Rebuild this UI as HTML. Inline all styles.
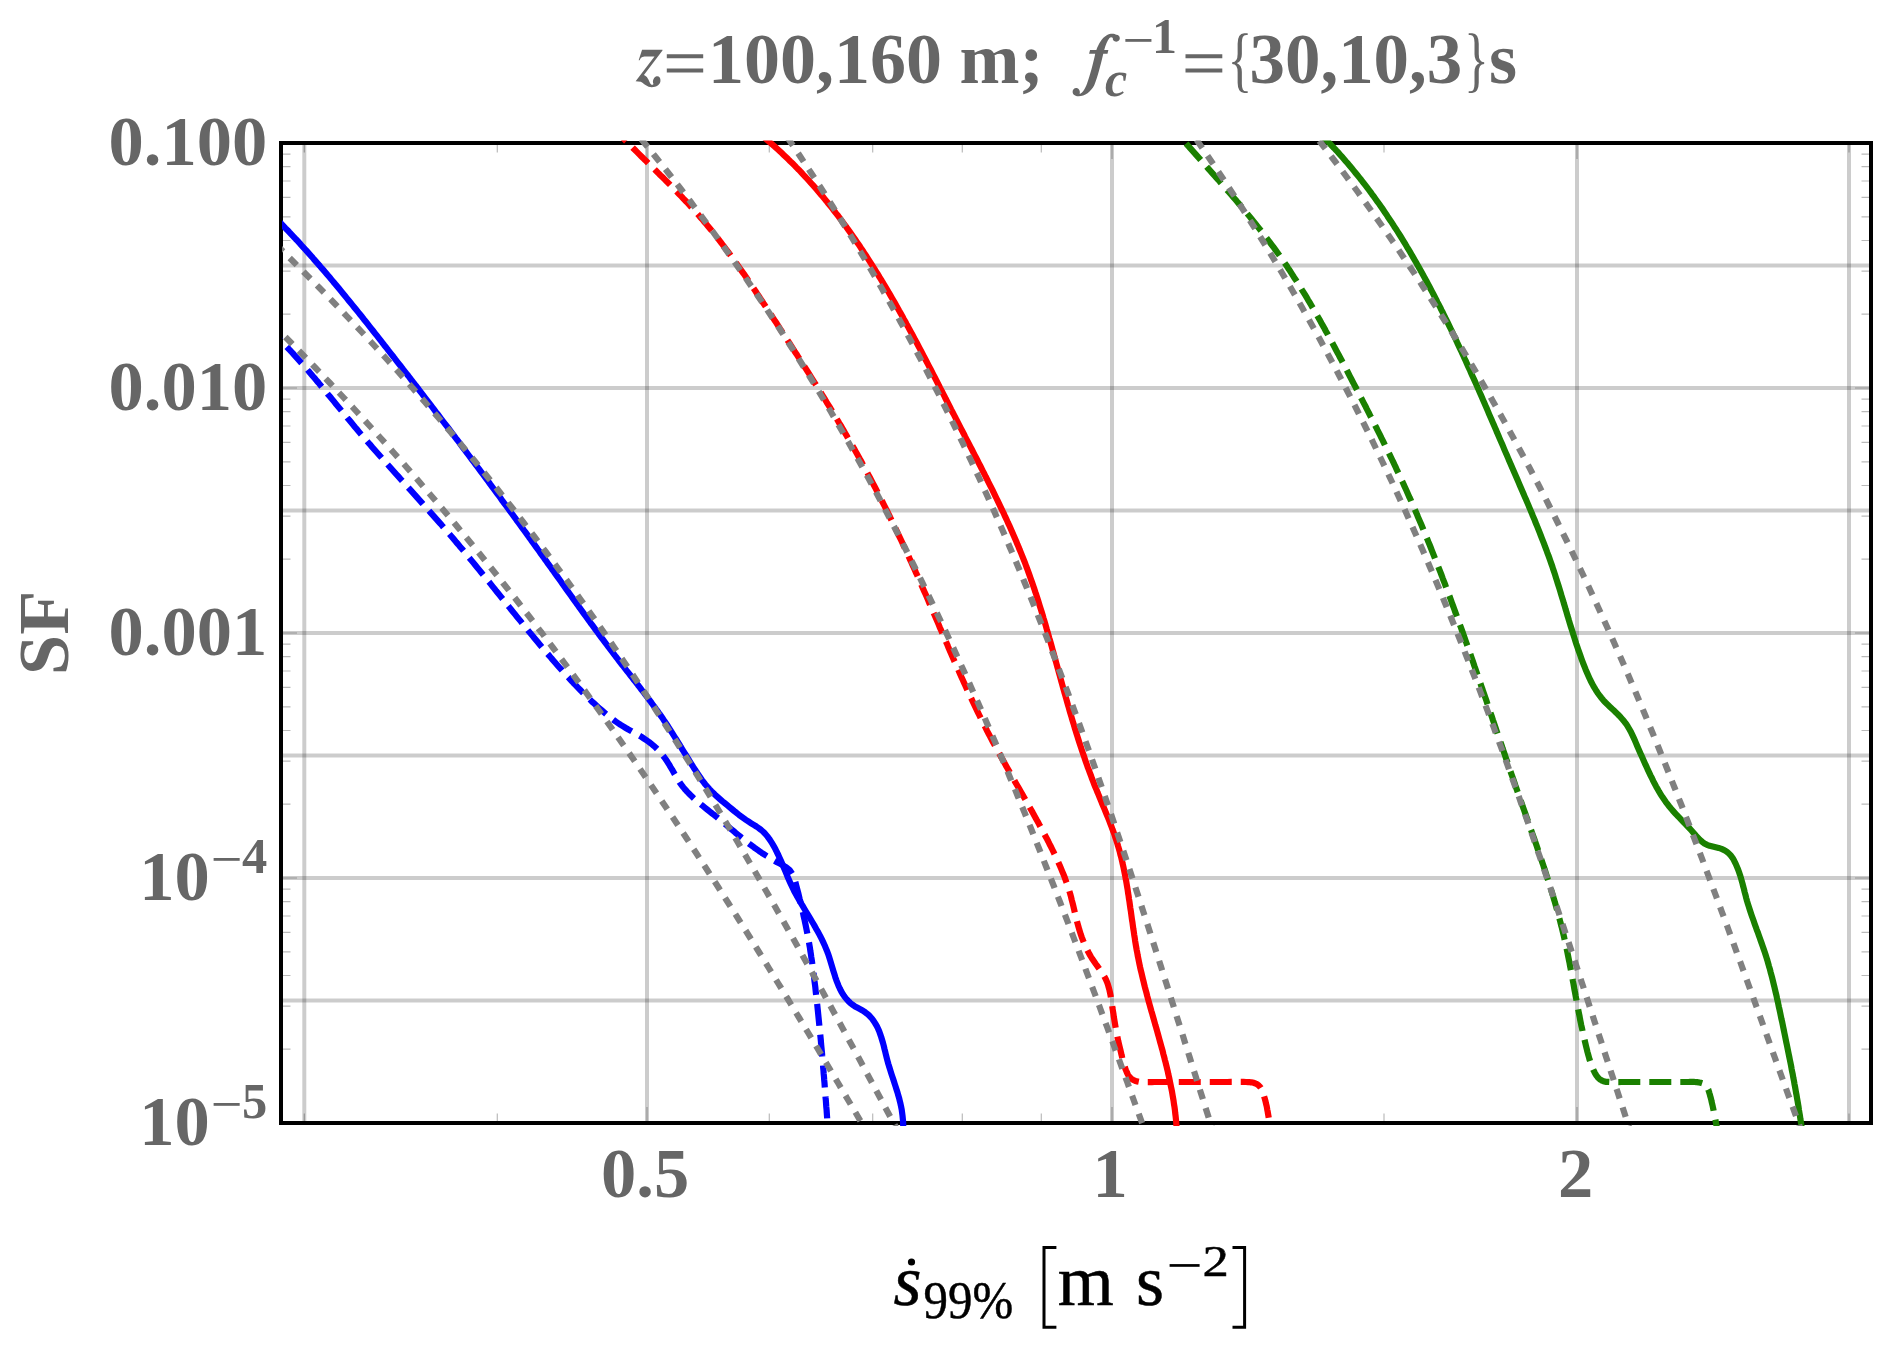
<!DOCTYPE html>
<html><head><meta charset="utf-8"><title>SF plot</title>
<style>html,body{margin:0;padding:0;background:#fff}body{width:1892px;height:1348px;position:relative;overflow:hidden;font-family:"Liberation Serif",serif}</style>
</head><body>
<svg width="1892" height="1348" viewBox="0 0 1892 1348" style="position:absolute;left:0;top:0;display:block">
<defs><clipPath id="cp"><rect x="282" y="140.5" width="1588" height="985.5"/></clipPath></defs>
<rect width="1892" height="1348" fill="#fff"/>
<g stroke="#000" stroke-opacity="0.2" stroke-width="4" fill="none"><path d="M304.3 143V1123"/><path d="M647 143V1123"/><path d="M1112 143V1123"/><path d="M1577 143V1123"/><path d="M1849 143V1123"/><path d="M281 265.5H1871"/><path d="M281 388H1871"/><path d="M281 510.5H1871"/><path d="M281 633H1871"/><path d="M281 755.5H1871"/><path d="M281 878H1871"/><path d="M281 1000.5H1871"/></g>
<path d="M304.3 145v7.5M304.3 1121v-7.5M497.3 145v7.5M497.3 1121v-7.5M769.3 145v7.5M769.3 1121v-7.5M872.7 145v7.5M872.7 1121v-7.5M962.3 145v7.5M962.3 1121v-7.5M1041.3 145v7.5M1041.3 1121v-7.5M1384 145v7.5M1384 1121v-7.5M1849 145v7.5M1849 1121v-7.5M647 145v14M647 1121v-14M1112 145v14M1112 1121v-14M1577 145v14M1577 1121v-14M283 388h14M1869 388h-14M283 314.2h7.5M1869 314.2h-7.5M283 271.1h7.5M1869 271.1h-7.5M283 240.5h7.5M1869 240.5h-7.5M283 216.8h7.5M1869 216.8h-7.5M283 197.4h7.5M1869 197.4h-7.5M283 181h7.5M1869 181h-7.5M283 166.7h7.5M1869 166.7h-7.5M283 154.2h7.5M1869 154.2h-7.5M283 633h14M1869 633h-14M283 559.2h7.5M1869 559.2h-7.5M283 516.1h7.5M1869 516.1h-7.5M283 485.5h7.5M1869 485.5h-7.5M283 461.8h7.5M1869 461.8h-7.5M283 442.4h7.5M1869 442.4h-7.5M283 426h7.5M1869 426h-7.5M283 411.7h7.5M1869 411.7h-7.5M283 399.2h7.5M1869 399.2h-7.5M283 878h14M1869 878h-14M283 804.2h7.5M1869 804.2h-7.5M283 761.1h7.5M1869 761.1h-7.5M283 730.5h7.5M1869 730.5h-7.5M283 706.8h7.5M1869 706.8h-7.5M283 687.4h7.5M1869 687.4h-7.5M283 671h7.5M1869 671h-7.5M283 656.7h7.5M1869 656.7h-7.5M283 644.2h7.5M1869 644.2h-7.5M283 1049.2h7.5M1869 1049.2h-7.5M283 1006.1h7.5M1869 1006.1h-7.5M283 975.5h7.5M1869 975.5h-7.5M283 951.8h7.5M1869 951.8h-7.5M283 932.4h7.5M1869 932.4h-7.5M283 916h7.5M1869 916h-7.5M283 901.7h7.5M1869 901.7h-7.5M283 889.2h7.5M1869 889.2h-7.5" stroke="#000" stroke-opacity="0.27" stroke-width="1.2" fill="none"/>
<rect x="281" y="143" width="1590" height="980" fill="none" stroke="#000" stroke-width="4"/>
<g clip-path="url(#cp)" fill="none" stroke-linejoin="round">
<path d="M274.9 217.3L277 219.4L279.1 221.6L281.2 223.7L283.3 225.9L285.4 228.1L287.5 230.2L289.5 232.4L291.6 234.6L293.7 236.8L295.7 239L297.8 241.2L299.8 243.4L301.8 245.7L303.8 247.9L305.9 250.1L307.9 252.4L309.9 254.6L311.9 256.8L313.8 259.1L315.8 261.4L317.8 263.6L319.8 265.9L321.7 268.2L323.7 270.4L325.7 272.7L327.6 275L329.6 277.3L331.5 279.6L333.4 281.9L335.4 284.2L337.3 286.5L339.2 288.8L341.1 291.2L343 293.5L344.9 295.8L346.8 298.1L348.7 300.5L350.6 302.8L352.5 305.1L354.4 307.5L356.3 309.8L358.2 312.1L360.1 314.5L362 316.8L363.8 319.2L365.7 321.5L367.6 323.9L369.5 326.3L371.3 328.6L373.2 331L375 333.3L376.9 335.7L378.8 338.1L380.6 340.4L382.5 342.8L384.3 345.2L386.2 347.5L388 349.9L389.9 352.3L391.7 354.6L393.6 357L395.4 359.4L397.3 361.8L399.1 364.1L401 366.5L402.8 368.9L404.7 371.3L406.5 373.6L408.4 376L410.2 378.4L412 380.8L413.9 383.1L415.7 385.5L417.6 387.9L419.4 390.3L421.2 392.7L423.1 395.1L424.9 397.5L426.7 399.8L428.5 402.2L430.4 404.6L432.2 407L434 409.4L435.8 411.8L437.7 414.2L439.5 416.6L441.3 419L443.1 421.4L445 423.8L446.8 426.2L448.6 428.5L450.4 430.9L452.2 433.3L454 435.7L455.8 438.1L457.7 440.5L459.5 442.9L461.3 445.4L463.1 447.8L464.9 450.2L466.7 452.6L468.5 455L470.3 457.4L472.1 459.8L473.9 462.2L475.7 464.6L477.5 467L479.3 469.4L481.1 471.8L482.9 474.3L484.7 476.7L486.5 479.1L488.3 481.5L490 483.9L491.8 486.3L493.6 488.8L495.4 491.2L497.2 493.6L499 496L500.8 498.4L502.5 500.9L504.3 503.3L506.1 505.7L507.9 508.1L509.7 510.6L511.4 513L513.2 515.4L515 517.8L516.7 520.3L518.5 522.7L520.3 525.1L522.1 527.6L523.8 530L525.6 532.4L527.4 534.9L529.1 537.3L530.9 539.7L532.6 542.2L534.4 544.6L536.2 547.1L537.9 549.5L539.7 551.9L541.4 554.4L543.2 556.8L544.9 559.3L546.7 561.7L548.4 564.2L550.2 566.6L551.9 569.1L553.7 571.5L555.4 573.9L557.2 576.4L558.9 578.8L560.7 581.3L562.4 583.7L564.2 586.2L565.9 588.6L567.7 591.1L569.4 593.5L571.2 596L572.9 598.4L574.7 600.9L576.4 603.3L578.2 605.7L579.9 608.2L581.7 610.6L583.5 613.1L585.2 615.5L587 617.9L588.8 620.4L590.5 622.8L592.3 625.2L594.1 627.6L595.9 630.1L597.7 632.5L599.4 634.9L601.2 637.3L603 639.7L604.8 642.1L606.6 644.5L608.4 646.9L610.3 649.3L612.1 651.7L613.9 654.1L615.7 656.5L617.6 658.9L619.4 661.3L621.2 663.7L623.1 666L624.9 668.4L626.8 670.8L628.7 673.2L630.5 675.5L632.4 677.9L634.2 680.3L636.1 682.6L637.9 685L639.8 687.4L641.6 689.8L643.5 692.2L645.3 694.5L647.1 696.9L648.9 699.3L650.7 701.7L652.5 704.2L654.3 706.6L656 709L657.8 711.4L659.5 713.9L661.3 716.4L663 718.8L664.6 721.3L666.3 723.8L668 726.3L669.6 728.8L671.2 731.4L672.8 733.9L674.4 736.5L676 739L677.6 741.6L679.2 744.1L680.7 746.7L682.3 749.3L683.9 751.8L685.5 754.4L687 757L688.6 759.5L690.2 762.1L691.8 764.7L693.4 767.2L695.1 769.7L696.7 772.3L698.4 774.8L700.1 777.3L701.8 779.8L703.6 782.2L705.4 784.5L707.4 786.8L709.4 789.1L711.4 791.2L713.6 793.3L715.7 795.4L718 797.4L720.2 799.4L722.5 801.4L724.9 803.3L727.2 805.2L729.5 807.1L731.8 809L734.2 811L736.5 812.8L738.8 814.7L741.2 816.5L743.7 818.3L746.1 820L748.7 821.7L751.2 823.3L753.8 824.9L756.4 826.5L758.9 828.2L761.2 830L763.5 832L765.5 834.1L767.4 836.4L769.2 838.8L770.9 841.4L772.5 843.9L774 846.6L775.5 849.3L776.8 852L778.2 854.7L779.4 857.4L780.7 860.2L781.9 863L783.1 865.8L784.2 868.6L785.4 871.4L786.6 874.2L787.7 877L788.9 879.8L790.1 882.5L791.4 885.3L792.7 888L794 890.7L795.4 893.3L796.8 895.9L798.3 898.5L799.8 901.1L801.3 903.7L802.8 906.2L804.3 908.8L805.8 911.3L807.4 913.9L808.9 916.4L810.4 918.9L812 921.5L813.5 924L815 926.6L816.4 929.2L817.9 931.8L819.3 934.4L820.7 937L822 939.7L823.3 942.4L824.6 945.2L825.7 947.9L826.9 950.7L828 953.6L829 956.5L829.9 959.4L830.8 962.4L831.7 965.3L832.6 968.3L833.5 971.3L834.4 974.2L835.3 977.2L836.3 980.1L837.4 982.9L838.5 985.7L839.8 988.5L841.1 991.1L842.6 993.7L844.2 996.1L846 998.5L848 1000.7L850.1 1002.8L852.4 1004.7L855 1006.4L857.6 1007.8L860.3 1009.2L863 1010.7L865.4 1012.4L867.8 1014.2L869.9 1016.3L871.9 1018.5L873.6 1020.8L875.2 1023.3L876.7 1025.8L878 1028.5L879.2 1031.3L880.2 1034.1L881.2 1037L882.1 1040L883 1043L883.8 1046L884.5 1049L885.3 1052.1L886 1055.1L886.8 1058.2L887.6 1061.2L888.4 1064.1L889.3 1067L890.2 1069.9L891.1 1072.8L892 1075.6L893 1078.5L893.9 1081.3L894.8 1084.1L895.7 1086.9L896.6 1089.7L897.5 1092.5L898.3 1095.3L899.1 1098.1L899.8 1101L900.5 1103.8L901.1 1106.7L901.7 1109.6L902.1 1112.6L902.5 1115.6L902.8 1118.6L903.1 1121.7L903.2 1124.8L903.2 1128L903 1131.3" stroke="#0000ff" stroke-width="6.2"/>
<path d="M274 334L276.1 336.1L278.3 338.2L280.4 340.4L282.5 342.5L284.6 344.7L286.7 346.8L288.8 349L290.8 351.2L292.9 353.4L294.9 355.7L296.9 357.9L298.9 360.1L300.9 362.4L302.9 364.6L304.9 366.9L306.9 369.1L308.8 371.4L310.8 373.7L312.7 376L314.7 378.3L316.6 380.6L318.6 382.9L320.5 385.2L322.4 387.5L324.3 389.8L326.2 392.1L328.1 394.5L330.1 396.8L332 399.1L333.9 401.4L335.8 403.8L337.7 406.1L339.6 408.4L341.5 410.7L343.4 413.1L345.3 415.4L347.2 417.7L349.2 420L351.1 422.3L353 424.7L354.9 427L356.9 429.3L358.8 431.6L360.7 433.9L362.7 436.1L364.7 438.4L366.6 440.7L368.6 443L370.6 445.2L372.5 447.5L374.5 449.8L376.5 452L378.5 454.3L380.5 456.5L382.5 458.8L384.5 461L386.5 463.3L388.5 465.5L390.5 467.8L392.5 470L394.5 472.3L396.5 474.5L398.5 476.7L400.5 479L402.5 481.2L404.5 483.4L406.5 485.7L408.5 487.9L410.6 490.2L412.6 492.4L414.6 494.6L416.6 496.9L418.6 499.1L420.6 501.3L422.6 503.6L424.6 505.8L426.6 508.1L428.6 510.3L430.6 512.6L432.6 514.8L434.6 517.1L436.6 519.3L438.6 521.6L440.6 523.8L442.5 526.1L444.5 528.4L446.5 530.7L448.4 532.9L450.4 535.2L452.4 537.5L454.3 539.8L456.2 542.1L458.2 544.4L460.1 546.7L462.1 549L464 551.3L465.9 553.6L467.8 555.9L469.7 558.3L471.6 560.6L473.5 562.9L475.4 565.2L477.3 567.6L479.2 569.9L481.1 572.2L483 574.6L484.9 576.9L486.8 579.3L488.7 581.6L490.6 583.9L492.5 586.3L494.4 588.6L496.2 591L498.1 593.3L500 595.7L501.9 598L503.8 600.4L505.7 602.7L507.5 605.1L509.4 607.4L511.3 609.7L513.2 612.1L515.1 614.4L517 616.8L518.9 619.1L520.8 621.4L522.7 623.8L524.6 626.1L526.5 628.4L528.4 630.8L530.3 633.1L532.2 635.4L534.1 637.7L536 640L537.9 642.3L539.9 644.7L541.8 647L543.7 649.3L545.7 651.5L547.6 653.8L549.6 656.1L551.5 658.4L553.5 660.7L555.5 663L557.4 665.2L559.4 667.5L561.4 669.7L563.4 672L565.4 674.2L567.4 676.4L569.5 678.6L571.5 680.8L573.5 683L575.6 685.2L577.7 687.4L579.8 689.5L581.9 691.7L584 693.8L586.1 695.9L588.3 698L590.5 700.1L592.6 702.2L594.9 704.2L597.1 706.2L599.3 708.2L601.6 710.2L603.9 712.2L606.2 714.1L608.5 716L610.9 717.9L613.3 719.7L615.7 721.5L618.2 723.2L620.7 724.9L623.2 726.4L625.8 728L628.4 729.5L631.1 730.9L633.7 732.4L636.3 733.9L638.9 735.4L641.5 736.9L644 738.6L646.5 740.3L649 742L651.4 743.9L653.7 745.8L655.9 747.8L658 749.9L660.1 752.1L662 754.4L663.9 756.8L665.7 759.3L667.4 761.8L669 764.3L670.5 767L672.1 769.6L673.6 772.3L675.1 774.9L676.6 777.6L678.2 780.1L679.8 782.7L681.6 785.1L683.4 787.4L685.3 789.7L687.3 791.9L689.4 794L691.5 796.1L693.7 798.2L695.9 800.2L698.1 802.1L700.4 804L702.8 805.9L705.1 807.8L707.5 809.7L709.8 811.6L712.2 813.5L714.6 815.3L716.9 817.2L719.2 819.1L721.6 821.1L723.9 823L726.2 824.9L728.5 826.9L730.8 828.8L733.1 830.7L735.4 832.7L737.8 834.6L740.1 836.5L742.4 838.4L744.8 840.3L747.1 842.1L749.5 844L751.9 845.8L754.3 847.6L756.7 849.3L759.2 851.1L761.7 852.8L764.2 854.4L766.7 856L769.3 857.6L771.9 859.2L774.5 860.7L777.1 862.2L779.8 863.6L782.5 865.1L785.1 866.6L787.5 868.3L789.7 870.2L791.4 872.5L792.9 875L794 877.8L795 880.7L795.8 883.7L796.6 886.7L797.4 889.7L798.2 892.7L798.9 895.7L799.6 898.7L800.4 901.6L801.1 904.6L801.7 907.5L802.4 910.4L803.1 913.3L803.7 916.3L804.4 919.2L805 922.1L805.6 924.9L806.2 927.8L806.8 930.8L807.4 933.7L807.9 936.6L808.4 939.5L809 942.4L809.5 945.4L810 948.3L810.4 951.3L810.9 954.3L811.3 957.2L811.8 960.2L812.2 963.2L812.6 966.2L813 969.2L813.4 972.2L813.8 975.1L814.2 978.1L814.5 981.1L814.9 984.1L815.3 987.1L815.6 990.2L815.9 993.2L816.3 996.2L816.6 999.2L816.9 1002.2L817.3 1005.2L817.6 1008.2L817.9 1011.1L818.2 1014.1L818.5 1017.1L818.8 1020.1L819.1 1023.1L819.4 1026.1L819.7 1029.1L820 1032.1L820.3 1035.1L820.6 1038.1L820.9 1041.1L821.1 1044.1L821.4 1047.1L821.7 1050.1L822 1053L822.2 1056L822.5 1059L822.7 1062L823 1065L823.2 1068L823.5 1071L823.7 1074L824 1077L824.2 1080L824.5 1083L824.7 1086L824.9 1089L825.2 1092L825.4 1095L825.6 1098L825.9 1101L826.1 1104L826.3 1107L826.6 1110L826.8 1113L827 1116L827.2 1119L827.4 1122L827.7 1125L827.9 1128L828.1 1131" stroke="#0000ff" stroke-width="6.2" stroke-dasharray="22 9" stroke-dashoffset="12.86"/>
<path d="M760.9 134.7L763.3 136.6L765.6 138.6L767.9 140.6L770.2 142.6L772.5 144.6L774.8 146.6L777.1 148.7L779.3 150.7L781.5 152.8L783.7 154.9L785.9 157L788.1 159.1L790.2 161.2L792.4 163.3L794.5 165.4L796.6 167.6L798.7 169.7L800.8 171.9L802.8 174.1L804.9 176.3L806.9 178.5L808.9 180.7L810.9 183L812.9 185.2L814.9 187.4L816.9 189.7L818.8 192L820.7 194.3L822.7 196.5L824.6 198.9L826.5 201.2L828.3 203.5L830.2 205.8L832.1 208.2L833.9 210.5L835.7 212.9L837.6 215.2L839.4 217.6L841.2 220L842.9 222.4L844.7 224.8L846.5 227.2L848.2 229.6L850 232.1L851.7 234.5L853.4 237L855.1 239.4L856.8 241.9L858.5 244.3L860.2 246.8L861.8 249.3L863.5 251.8L865.1 254.3L866.8 256.8L868.4 259.3L870 261.8L871.6 264.4L873.2 266.9L874.8 269.4L876.4 272L878 274.5L879.5 277.1L881.1 279.6L882.6 282.2L884.2 284.8L885.7 287.4L887.2 289.9L888.8 292.5L890.3 295.1L891.8 297.7L893.3 300.3L894.8 302.9L896.3 305.5L897.8 308.2L899.2 310.8L900.7 313.4L902.2 316L903.6 318.7L905.1 321.3L906.5 324L908 326.6L909.4 329.2L910.9 331.9L912.3 334.5L913.7 337.2L915.1 339.9L916.6 342.5L918 345.2L919.4 347.9L920.8 350.5L922.2 353.2L923.6 355.9L925 358.5L926.4 361.2L927.8 363.9L929.2 366.6L930.6 369.3L932 372L933.3 374.6L934.7 377.3L936.1 380L937.5 382.7L938.9 385.4L940.2 388.1L941.6 390.8L943 393.4L944.4 396.1L945.7 398.8L947.1 401.5L948.5 404.2L949.9 406.9L951.2 409.6L952.6 412.3L954 414.9L955.4 417.6L956.7 420.3L958.1 423L959.5 425.7L960.9 428.4L962.3 431L963.7 433.7L965 436.4L966.4 439.1L967.8 441.7L969.2 444.4L970.6 447.1L972 449.8L973.3 452.4L974.7 455.1L976.1 457.8L977.5 460.5L978.8 463.1L980.2 465.8L981.6 468.5L982.9 471.2L984.3 473.8L985.6 476.5L987 479.2L988.3 481.9L989.7 484.6L991 487.2L992.4 489.9L993.7 492.6L995 495.3L996.3 498L997.6 500.7L998.9 503.4L1000.2 506.1L1001.5 508.8L1002.8 511.5L1004.1 514.2L1005.3 516.9L1006.6 519.6L1007.8 522.4L1009.1 525.1L1010.3 527.8L1011.5 530.5L1012.7 533.3L1013.9 536L1015.1 538.8L1016.3 541.5L1017.4 544.3L1018.6 547L1019.7 549.8L1020.9 552.6L1022 555.3L1023.1 558.1L1024.2 560.9L1025.3 563.7L1026.3 566.5L1027.4 569.3L1028.4 572.1L1029.4 574.9L1030.4 577.8L1031.4 580.6L1032.4 583.4L1033.4 586.3L1034.4 589.1L1035.3 592L1036.3 594.8L1037.2 597.7L1038.1 600.5L1039 603.4L1039.9 606.3L1040.8 609.1L1041.7 612L1042.6 614.9L1043.4 617.8L1044.3 620.7L1045.2 623.6L1046 626.5L1046.8 629.4L1047.7 632.3L1048.5 635.2L1049.3 638.1L1050.2 641L1051 643.9L1051.8 646.8L1052.6 649.7L1053.4 652.6L1054.2 655.5L1055 658.4L1055.8 661.3L1056.6 664.2L1057.4 667.1L1058.2 670L1059 672.9L1059.8 675.8L1060.6 678.7L1061.4 681.6L1062.2 684.5L1063 687.4L1063.8 690.3L1064.6 693.2L1065.5 696.1L1066.3 699L1067.1 701.9L1067.9 704.8L1068.8 707.7L1069.6 710.6L1070.4 713.4L1071.3 716.3L1072.1 719.2L1073 722.1L1073.9 724.9L1074.7 727.8L1075.6 730.7L1076.5 733.5L1077.4 736.4L1078.3 739.2L1079.2 742.1L1080.1 744.9L1081.1 747.8L1082 750.6L1083 753.5L1084 756.3L1084.9 759.1L1085.9 762L1086.9 764.8L1087.9 767.6L1089 770.4L1090 773.2L1091.1 776L1092.1 778.9L1093.2 781.7L1094.3 784.5L1095.4 787.3L1096.6 790L1097.7 792.8L1098.9 795.6L1100 798.4L1101.2 801.2L1102.3 804L1103.5 806.8L1104.7 809.6L1105.8 812.4L1106.9 815.1L1108.1 817.9L1109.2 820.7L1110.3 823.5L1111.4 826.4L1112.4 829.2L1113.5 832L1114.5 834.8L1115.4 837.7L1116.4 840.5L1117.3 843.4L1118.1 846.2L1119 849.1L1119.8 852L1120.5 854.9L1121.3 857.8L1122 860.7L1122.6 863.6L1123.3 866.5L1123.9 869.4L1124.5 872.4L1125.1 875.3L1125.6 878.3L1126.2 881.2L1126.7 884.2L1127.2 887.1L1127.7 890.1L1128.1 893.1L1128.6 896L1129 899L1129.5 902L1129.9 905L1130.3 907.9L1130.8 910.9L1131.2 913.9L1131.6 916.9L1132 919.9L1132.5 922.8L1132.9 925.8L1133.3 928.8L1133.8 931.8L1134.2 934.7L1134.7 937.7L1135.1 940.7L1135.6 943.7L1136.1 946.6L1136.6 949.6L1137.2 952.5L1137.7 955.5L1138.3 958.4L1138.9 961.4L1139.5 964.3L1140.1 967.2L1140.8 970.2L1141.5 973.1L1142.2 976L1142.9 978.9L1143.6 981.8L1144.3 984.7L1145 987.6L1145.8 990.5L1146.6 993.4L1147.3 996.3L1148.1 999.2L1148.9 1002.1L1149.7 1005L1150.5 1007.9L1151.3 1010.8L1152.2 1013.7L1153 1016.6L1153.8 1019.4L1154.6 1022.3L1155.4 1025.2L1156.3 1028.1L1157.1 1031L1157.9 1033.9L1158.7 1036.8L1159.5 1039.7L1160.3 1042.6L1161.1 1045.5L1161.9 1048.4L1162.7 1051.2L1163.4 1054.2L1164.2 1057.1L1164.9 1060L1165.7 1062.9L1166.4 1065.8L1167.1 1068.7L1167.8 1071.6L1168.4 1074.6L1169.1 1077.5L1169.7 1080.4L1170.3 1083.4L1170.9 1086.3L1171.5 1089.2L1172.1 1092.2L1172.6 1095.2L1173.1 1098.1L1173.6 1101.1L1174 1104.1L1174.5 1107L1174.9 1110L1175.2 1113L1175.6 1116L1175.9 1119L1176.2 1122L1176.4 1125L1176.6 1128L1176.8 1131.1" stroke="#ff0000" stroke-width="6.2"/>
<path d="M620.2 134.9L622.2 137.1L624.3 139.2L626.4 141.3L628.5 143.5L630.6 145.6L632.7 147.7L634.8 149.8L636.9 151.9L639.1 154.1L641.2 156.2L643.3 158.3L645.5 160.4L647.6 162.5L649.7 164.6L651.9 166.7L654 168.8L656.2 171L658.3 173.1L660.4 175.2L662.6 177.3L664.7 179.4L666.8 181.6L669 183.7L671.1 185.9L673.2 188L675.3 190.1L677.4 192.3L679.5 194.5L681.6 196.6L683.6 198.8L685.7 201L687.8 203.2L689.8 205.4L691.8 207.6L693.9 209.8L695.9 212.1L697.9 214.3L699.8 216.6L701.8 218.8L703.7 221.1L705.7 223.4L707.6 225.7L709.5 228L711.4 230.3L713.3 232.7L715.1 235L717 237.4L718.8 239.7L720.7 242.1L722.5 244.5L724.3 246.9L726.1 249.3L727.9 251.7L729.7 254.1L731.4 256.5L733.2 258.9L734.9 261.3L736.7 263.8L738.4 266.2L740.1 268.7L741.8 271.1L743.6 273.6L745.3 276.1L747 278.5L748.6 281L750.3 283.5L752 286L753.7 288.5L755.4 291L757 293.5L758.7 296L760.3 298.5L762 301L763.6 303.5L765.3 306L766.9 308.5L768.6 311.1L770.2 313.6L771.9 316.1L773.5 318.6L775.1 321.1L776.8 323.6L778.4 326.2L780 328.7L781.7 331.2L783.3 333.7L785 336.3L786.6 338.8L788.2 341.3L789.9 343.8L791.5 346.4L793.1 348.9L794.7 351.4L796.4 353.9L798 356.5L799.6 359L801.2 361.5L802.8 364.1L804.5 366.6L806.1 369.1L807.7 371.7L809.3 374.2L810.9 376.8L812.5 379.3L814.1 381.8L815.7 384.4L817.3 386.9L818.9 389.5L820.4 392L822 394.6L823.6 397.2L825.2 399.7L826.7 402.3L828.3 404.8L829.9 407.4L831.4 410L833 412.5L834.5 415.1L836.1 417.7L837.6 420.3L839.1 422.9L840.7 425.4L842.2 428L843.7 430.6L845.2 433.2L846.7 435.8L848.2 438.4L849.7 441L851.2 443.6L852.7 446.2L854.2 448.8L855.6 451.4L857.1 454.1L858.6 456.7L860 459.3L861.5 461.9L862.9 464.6L864.3 467.2L865.8 469.8L867.2 472.5L868.6 475.1L870 477.8L871.4 480.4L872.8 483.1L874.2 485.7L875.6 488.4L877 491.1L878.3 493.7L879.7 496.4L881 499.1L882.4 501.8L883.7 504.4L885.1 507.1L886.4 509.8L887.8 512.5L889.1 515.2L890.4 517.9L891.7 520.6L893 523.3L894.3 526L895.6 528.7L896.9 531.4L898.2 534.1L899.5 536.8L900.8 539.5L902.1 542.3L903.3 545L904.6 547.7L905.9 550.4L907.1 553.1L908.4 555.9L909.6 558.6L910.9 561.3L912.1 564.1L913.4 566.8L914.6 569.5L915.8 572.3L917.1 575L918.3 577.8L919.5 580.5L920.7 583.3L921.9 586L923.1 588.8L924.3 591.5L925.6 594.3L926.8 597L928 599.8L929.1 602.5L930.3 605.3L931.5 608L932.7 610.8L933.9 613.6L935.1 616.3L936.3 619.1L937.5 621.8L938.7 624.6L939.8 627.4L941 630.1L942.2 632.9L943.4 635.6L944.6 638.4L945.8 641.2L947 643.9L948.1 646.7L949.3 649.4L950.5 652.2L951.7 654.9L952.9 657.7L954.1 660.5L955.3 663.2L956.6 666L957.8 668.7L959 671.4L960.2 674.2L961.4 676.9L962.7 679.7L963.9 682.4L965.1 685.1L966.4 687.9L967.6 690.6L968.9 693.3L970.1 696L971.4 698.7L972.7 701.5L974 704.2L975.3 706.9L976.6 709.6L977.9 712.3L979.2 715L980.5 717.7L981.8 720.4L983.2 723L984.5 725.7L985.9 728.4L987.2 731.1L988.6 733.7L990 736.4L991.4 739L992.8 741.7L994.2 744.3L995.7 747L997.1 749.6L998.5 752.3L1000 754.9L1001.4 757.5L1002.9 760.1L1004.4 762.8L1005.8 765.4L1007.3 768L1008.8 770.6L1010.3 773.2L1011.8 775.8L1013.3 778.4L1014.7 781.1L1016.2 783.7L1017.7 786.3L1019.2 788.9L1020.7 791.5L1022.2 794.1L1023.7 796.7L1025.2 799.3L1026.7 801.9L1028.1 804.6L1029.6 807.2L1031.1 809.8L1032.6 812.4L1034 815L1035.5 817.7L1036.9 820.3L1038.4 822.9L1039.8 825.6L1041.3 828.2L1042.7 830.9L1044.1 833.5L1045.5 836.2L1046.9 838.8L1048.3 841.5L1049.6 844.2L1051 846.8L1052.3 849.5L1053.6 852.2L1054.9 854.9L1056.2 857.6L1057.5 860.3L1058.7 863.1L1059.9 865.8L1061.1 868.6L1062.2 871.3L1063.4 874.1L1064.5 876.9L1065.5 879.7L1066.5 882.5L1067.5 885.3L1068.4 888.2L1069.3 891L1070.2 893.9L1071 896.8L1071.7 899.7L1072.5 902.7L1073.2 905.6L1073.9 908.5L1074.6 911.5L1075.3 914.4L1076 917.3L1076.7 920.3L1077.5 923.2L1078.3 926.1L1079.1 929L1080 931.9L1080.9 934.8L1081.9 937.6L1083 940.4L1084.1 943.2L1085.3 945.9L1086.6 948.6L1087.9 951.3L1089.3 953.9L1090.8 956.5L1092.4 959.1L1094.1 961.6L1095.8 964L1097.6 966.4L1099.3 968.9L1101.1 971.3L1102.7 973.8L1104.3 976.4L1105.7 979L1106.9 981.7L1107.9 984.5L1108.7 987.3L1109.5 990.3L1110.1 993.2L1110.7 996.2L1111.2 999.3L1111.6 1002.3L1112.1 1005.3L1112.5 1008.3L1113 1011.3L1113.5 1014.3L1113.9 1017.3L1114.4 1020.2L1114.9 1023.2L1115.4 1026.2L1115.9 1029.1L1116.5 1032L1117 1035L1117.6 1037.9L1118.2 1040.8L1118.9 1043.7L1119.6 1046.7L1120.3 1049.6L1121 1052.5L1121.5 1054.8L1122 1056.8L1122.4 1058.6L1122.8 1060.2L1123.2 1061.7L1123.6 1063.2L1124 1064.6L1124.5 1066L1125 1067.4L1125.4 1068.8L1125.9 1070.1L1126.4 1071.3L1126.9 1072.5L1127.4 1073.5L1127.9 1074.6L1128.5 1075.5L1129.1 1076.3L1129.7 1077.1L1130.3 1077.8L1131 1078.4L1131.7 1078.9L1132.4 1079.4L1133.2 1079.9L1134 1080.3L1134.8 1080.7L1135.6 1081L1136.4 1081.2L1137.2 1081.5L1138.2 1081.6L1139.2 1081.8L1140.5 1081.9L1142 1082L1143.7 1082.1L1145.5 1082.1L1147.5 1082.1L1149.6 1082.1L1151.9 1082.1L1154.4 1082L1157.1 1082L1160 1082L1163.2 1082L1166.7 1082L1170.4 1082L1174.2 1082L1178.2 1082L1182.2 1082L1186.2 1082L1190 1082L1193.8 1082L1197.6 1082L1201.4 1082L1205.2 1082L1209 1082L1212.8 1082L1216.4 1082L1220 1082L1223.6 1082L1227.2 1082L1230.8 1081.9L1234.3 1081.9L1237.7 1081.9L1240.8 1081.9L1243.6 1081.9L1246 1082L1248 1082.1L1249.5 1082.2L1250.8 1082.3L1251.8 1082.4L1252.6 1082.5L1253.4 1082.7L1254.2 1083L1255 1083.3L1255.9 1083.7L1256.7 1084L1257.4 1084.5L1258.1 1084.9L1258.7 1085.5L1259.3 1086.1L1259.9 1086.7L1260.5 1087.5L1261 1088.3L1261.5 1089.2L1262 1090.2L1262.4 1091.3L1262.8 1092.4L1263.2 1093.5L1263.6 1094.7L1264 1096L1264.4 1097.3L1264.8 1098.7L1265.2 1100.1L1265.6 1101.6L1265.9 1103.1L1266.3 1104.7L1266.7 1106.3L1267 1108L1267.3 1109.8L1267.7 1111.7L1268 1113.7L1268.4 1115.8L1268.7 1117.8L1269 1119.7L1269.2 1121.4L1269.5 1123L1269.7 1124.4L1269.9 1125.7L1270.1 1126.9L1270.3 1127.9L1270.5 1128.9L1270.6 1129.7L1270.7 1130.4L1270.8 1131" stroke="#ff0000" stroke-width="6.2" stroke-dasharray="22 9" stroke-dashoffset="13.25"/>
<path d="M1321.5 135L1323.6 137.1L1325.7 139.3L1327.8 141.4L1329.9 143.6L1331.9 145.8L1334 148L1336 150.2L1338.1 152.4L1340.1 154.7L1342.1 156.9L1344.1 159.2L1346 161.5L1348 163.7L1349.9 166L1351.8 168.3L1353.7 170.6L1355.6 173L1357.5 175.3L1359.4 177.6L1361.3 180L1363.1 182.4L1364.9 184.7L1366.8 187.1L1368.6 189.5L1370.4 191.9L1372.1 194.3L1373.9 196.7L1375.7 199.2L1377.4 201.6L1379.2 204L1380.9 206.5L1382.6 208.9L1384.3 211.4L1386 213.9L1387.6 216.4L1389.3 218.9L1391 221.4L1392.6 223.9L1394.2 226.4L1395.9 228.9L1397.5 231.5L1399.1 234L1400.7 236.5L1402.3 239.1L1403.8 241.6L1405.4 244.2L1406.9 246.8L1408.5 249.4L1410 251.9L1411.5 254.5L1413 257.1L1414.5 259.7L1416 262.3L1417.5 265L1419 267.6L1420.5 270.2L1421.9 272.8L1423.4 275.5L1424.8 278.1L1426.3 280.7L1427.7 283.4L1429.1 286L1430.5 288.7L1431.9 291.4L1433.3 294L1434.7 296.7L1436.1 299.4L1437.4 302.1L1438.8 304.7L1440.2 307.4L1441.5 310.1L1442.9 312.8L1444.2 315.5L1445.5 318.2L1446.9 320.9L1448.2 323.6L1449.5 326.3L1450.8 329L1452.1 331.7L1453.4 334.5L1454.7 337.2L1456 339.9L1457.2 342.6L1458.5 345.3L1459.8 348.1L1461.1 350.8L1462.3 353.5L1463.6 356.3L1464.8 359L1466.1 361.7L1467.3 364.5L1468.5 367.2L1469.8 369.9L1471 372.7L1472.2 375.4L1473.4 378.1L1474.7 380.9L1475.9 383.6L1477.1 386.4L1478.3 389.1L1479.5 391.9L1480.7 394.6L1481.9 397.3L1483.1 400.1L1484.3 402.8L1485.5 405.6L1486.7 408.3L1487.9 411.1L1489 413.8L1490.2 416.6L1491.4 419.3L1492.6 422.1L1493.8 424.8L1495 427.6L1496.2 430.3L1497.3 433.1L1498.5 435.8L1499.7 438.6L1500.9 441.4L1502.1 444.1L1503.3 446.9L1504.4 449.6L1505.6 452.4L1506.8 455.1L1508 457.9L1509.2 460.7L1510.4 463.4L1511.6 466.2L1512.8 468.9L1514 471.7L1515.2 474.4L1516.4 477.2L1517.6 480L1518.7 482.7L1519.9 485.5L1521.1 488.3L1522.3 491L1523.5 493.8L1524.7 496.6L1525.9 499.3L1527.1 502.1L1528.3 504.9L1529.4 507.6L1530.6 510.4L1531.8 513.2L1532.9 516L1534.1 518.7L1535.2 521.5L1536.3 524.3L1537.5 527.1L1538.6 529.9L1539.7 532.7L1540.8 535.5L1541.9 538.3L1543 541.1L1544.1 543.9L1545.1 546.7L1546.2 549.5L1547.2 552.3L1548.3 555.1L1549.3 557.9L1550.3 560.8L1551.3 563.6L1552.3 566.4L1553.2 569.3L1554.2 572.1L1555.1 574.9L1556 577.8L1556.9 580.6L1557.8 583.5L1558.7 586.3L1559.6 589.2L1560.5 592.1L1561.3 594.9L1562.2 597.8L1563.1 600.7L1563.9 603.5L1564.8 606.4L1565.6 609.3L1566.5 612.1L1567.3 615L1568.2 617.9L1569 620.7L1569.9 623.6L1570.8 626.5L1571.7 629.3L1572.6 632.2L1573.5 635.1L1574.4 637.9L1575.3 640.8L1576.2 643.7L1577.2 646.5L1578.2 649.4L1579.2 652.2L1580.2 655L1581.2 657.9L1582.2 660.7L1583.3 663.6L1584.4 666.4L1585.5 669.2L1586.7 672L1587.9 674.8L1589.1 677.5L1590.4 680.3L1591.8 683L1593.2 685.6L1594.7 688.2L1596.3 690.8L1597.9 693.2L1599.7 695.7L1601.5 698L1603.4 700.3L1605.5 702.5L1607.6 704.6L1609.8 706.7L1612 708.8L1614.2 710.8L1616.4 712.9L1618.5 715L1620.6 717.2L1622.6 719.5L1624.5 721.8L1626.3 724.2L1627.9 726.7L1629.4 729.3L1630.9 731.9L1632.2 734.6L1633.5 737.4L1634.7 740.1L1635.9 742.9L1637.1 745.7L1638.3 748.4L1639.5 751.2L1640.7 753.9L1641.9 756.6L1643.1 759.3L1644.3 762L1645.5 764.7L1646.8 767.4L1648 770.2L1649.3 772.9L1650.6 775.6L1652 778.3L1653.3 781.1L1654.7 783.7L1656.1 786.4L1657.6 789.1L1659.1 791.7L1660.7 794.3L1662.3 796.8L1664 799.3L1665.7 801.8L1667.5 804.2L1669.3 806.5L1671.2 808.8L1673.2 811.1L1675.2 813.3L1677.2 815.5L1679.3 817.6L1681.4 819.8L1683.5 822L1685.5 824.1L1687.6 826.3L1689.7 828.5L1691.7 830.8L1693.7 833.1L1695.7 835.4L1697.8 837.6L1699.9 839.8L1702.1 841.7L1704.4 843.4L1707 844.8L1709.7 845.8L1712.7 846.5L1715.7 847.2L1718.6 847.9L1721.5 848.9L1724.2 850.1L1726.7 851.6L1728.9 853.5L1730.9 855.7L1732.7 858.1L1734.2 860.8L1735.6 863.6L1736.8 866.4L1738 869.2L1739 872L1740 874.9L1740.9 877.8L1741.7 880.7L1742.5 883.5L1743.2 886.4L1744 889.3L1744.7 892.2L1745.5 895.1L1746.2 898L1747 900.9L1747.9 903.8L1748.8 906.6L1749.7 909.5L1750.6 912.3L1751.6 915.2L1752.6 918L1753.6 920.8L1754.6 923.7L1755.6 926.5L1756.6 929.3L1757.7 932.1L1758.7 935L1759.7 937.8L1760.7 940.6L1761.7 943.4L1762.7 946.3L1763.7 949.1L1764.7 952L1765.6 954.8L1766.5 957.7L1767.4 960.5L1768.2 963.4L1769 966.3L1769.9 969.2L1770.6 972.1L1771.4 975L1772.2 977.9L1772.9 980.8L1773.6 983.7L1774.3 986.6L1775 989.5L1775.7 992.4L1776.4 995.3L1777 998.2L1777.7 1001.2L1778.3 1004.1L1778.9 1007L1779.6 1010L1780.2 1012.9L1780.8 1015.8L1781.4 1018.8L1782.1 1021.7L1782.7 1024.6L1783.3 1027.6L1783.9 1030.5L1784.5 1033.5L1785.1 1036.4L1785.7 1039.4L1786.3 1042.3L1786.9 1045.2L1787.5 1048.2L1788.1 1051.1L1788.7 1054.1L1789.3 1057L1789.9 1060L1790.5 1062.9L1791.1 1065.9L1791.6 1068.8L1792.2 1071.8L1792.8 1074.7L1793.3 1077.7L1793.9 1080.6L1794.4 1083.6L1795 1086.6L1795.5 1089.5L1796 1092.5L1796.6 1095.4L1797.1 1098.4L1797.6 1101.3L1798.1 1104.3L1798.6 1107.3L1799 1110.2L1799.5 1113.2L1800 1116.1L1800.4 1119.1L1800.9 1122.1L1801.3 1125L1801.8 1128L1802.2 1131" stroke="#1a8000" stroke-width="6.2"/>
<path d="M1176.5 132.7L1178.5 134.9L1180.5 137.2L1182.5 139.4L1184.4 141.6L1186.4 143.9L1188.4 146.1L1190.4 148.4L1192.4 150.6L1194.4 152.8L1196.4 155.1L1198.4 157.3L1200.4 159.6L1202.3 161.8L1204.3 164.1L1206.3 166.3L1208.3 168.6L1210.3 170.8L1212.3 173.1L1214.3 175.3L1216.3 177.6L1218.3 179.8L1220.2 182.1L1222.2 184.4L1224.2 186.6L1226.2 188.9L1228.1 191.2L1230.1 193.4L1232.1 195.7L1234 198L1236 200.3L1237.9 202.6L1239.9 204.9L1241.8 207.2L1243.7 209.5L1245.7 211.8L1247.6 214.1L1249.5 216.4L1251.4 218.7L1253.3 221.1L1255.2 223.4L1257.1 225.8L1258.9 228.1L1260.8 230.5L1262.6 232.8L1264.5 235.2L1266.3 237.6L1268.1 240L1269.9 242.4L1271.7 244.8L1273.5 247.2L1275.3 249.6L1277 252L1278.8 254.5L1280.5 256.9L1282.2 259.4L1283.9 261.9L1285.6 264.3L1287.3 266.8L1288.9 269.3L1290.6 271.8L1292.2 274.3L1293.8 276.9L1295.5 279.4L1297.1 281.9L1298.7 284.5L1300.3 287L1301.8 289.6L1303.4 292.1L1305 294.7L1306.5 297.2L1308 299.8L1309.6 302.4L1311.1 305L1312.6 307.6L1314.1 310.2L1315.6 312.8L1317.1 315.4L1318.6 318L1320.1 320.6L1321.5 323.3L1323 325.9L1324.5 328.5L1325.9 331.2L1327.4 333.8L1328.8 336.4L1330.2 339.1L1331.7 341.7L1333.1 344.4L1334.5 347L1335.9 349.7L1337.3 352.4L1338.8 355L1340.2 357.7L1341.6 360.3L1343 363L1344.4 365.7L1345.8 368.3L1347.2 371L1348.6 373.7L1349.9 376.3L1351.3 379L1352.7 381.7L1354.1 384.4L1355.5 387L1356.9 389.7L1358.3 392.4L1359.7 395L1361 397.7L1362.4 400.4L1363.8 403.1L1365.2 405.7L1366.5 408.4L1367.9 411.1L1369.3 413.8L1370.6 416.5L1372 419.1L1373.4 421.8L1374.7 424.5L1376.1 427.2L1377.4 429.9L1378.8 432.6L1380.1 435.2L1381.4 437.9L1382.8 440.6L1384.1 443.3L1385.4 446L1386.7 448.7L1388.1 451.4L1389.4 454.1L1390.7 456.8L1392 459.5L1393.3 462.2L1394.6 465L1395.9 467.7L1397.1 470.4L1398.4 473.1L1399.7 475.8L1400.9 478.5L1402.2 481.3L1403.5 484L1404.7 486.7L1406 489.5L1407.2 492.2L1408.4 494.9L1409.6 497.7L1410.9 500.4L1412.1 503.2L1413.3 505.9L1414.5 508.7L1415.7 511.4L1416.9 514.2L1418 517L1419.2 519.7L1420.4 522.5L1421.6 525.3L1422.7 528L1423.9 530.8L1425 533.6L1426.2 536.4L1427.3 539.1L1428.4 541.9L1429.6 544.7L1430.7 547.5L1431.8 550.3L1432.9 553.1L1434 555.9L1435.1 558.7L1436.2 561.5L1437.3 564.3L1438.4 567.1L1439.5 569.9L1440.6 572.7L1441.7 575.5L1442.7 578.3L1443.8 581.1L1444.9 583.9L1445.9 586.7L1447 589.6L1448.1 592.4L1449.1 595.2L1450.2 598L1451.2 600.8L1452.2 603.7L1453.3 606.5L1454.3 609.3L1455.3 612.1L1456.4 615L1457.4 617.8L1458.4 620.6L1459.4 623.5L1460.5 626.3L1461.5 629.1L1462.5 631.9L1463.5 634.8L1464.5 637.6L1465.5 640.5L1466.5 643.3L1467.5 646.1L1468.5 649L1469.5 651.8L1470.5 654.6L1471.5 657.5L1472.5 660.3L1473.5 663.2L1474.4 666L1475.4 668.8L1476.4 671.7L1477.4 674.5L1478.4 677.4L1479.3 680.2L1480.3 683L1481.3 685.9L1482.3 688.7L1483.2 691.6L1484.2 694.4L1485.2 697.2L1486.2 700.1L1487.1 702.9L1488.1 705.8L1489.1 708.6L1490 711.5L1491 714.3L1492 717.1L1492.9 720L1493.9 722.8L1494.9 725.7L1495.8 728.5L1496.8 731.4L1497.8 734.2L1498.8 737L1499.7 739.9L1500.7 742.7L1501.7 745.6L1502.6 748.4L1503.6 751.2L1504.6 754.1L1505.5 756.9L1506.5 759.8L1507.5 762.6L1508.5 765.4L1509.4 768.3L1510.4 771.1L1511.4 774L1512.4 776.8L1513.4 779.6L1514.4 782.5L1515.3 785.3L1516.3 788.1L1517.3 791L1518.3 793.8L1519.3 796.6L1520.3 799.5L1521.3 802.3L1522.3 805.1L1523.3 808L1524.3 810.8L1525.3 813.6L1526.3 816.5L1527.3 819.3L1528.3 822.1L1529.3 825L1530.3 827.8L1531.3 830.6L1532.3 833.5L1533.3 836.3L1534.3 839.1L1535.3 842L1536.3 844.8L1537.3 847.7L1538.2 850.5L1539.2 853.3L1540.2 856.2L1541.2 859L1542.1 861.9L1543.1 864.7L1544 867.6L1545 870.4L1545.9 873.3L1546.8 876.1L1547.7 879L1548.7 881.8L1549.6 884.7L1550.5 887.6L1551.3 890.4L1552.2 893.3L1553.1 896.2L1553.9 899L1554.8 901.9L1555.6 904.8L1556.4 907.7L1557.3 910.6L1558.1 913.5L1558.8 916.4L1559.6 919.3L1560.4 922.2L1561.1 925.1L1561.9 928L1562.6 930.9L1563.3 933.8L1564 936.7L1564.6 939.7L1565.3 942.6L1565.9 945.5L1566.6 948.5L1567.2 951.4L1567.8 954.4L1568.4 957.3L1569 960.3L1569.6 963.2L1570.1 966.2L1570.7 969.2L1571.3 972.1L1571.8 975.1L1572.4 978L1572.9 981L1573.5 984L1574 986.9L1574.5 989.9L1575.1 992.9L1575.6 995.8L1576.2 998.8L1576.7 1001.8L1577.3 1004.7L1577.8 1007.7L1578.4 1010.6L1579 1013.6L1579.6 1016.5L1580.1 1019.5L1580.7 1022.4L1581.3 1025.4L1582 1028.3L1582.6 1031.3L1583.2 1034.2L1583.9 1037.1L1584.6 1040L1585.3 1043L1586 1045.9L1586.7 1048.8L1587.4 1051.7L1588.2 1054.6L1589 1057.5L1589.5 1059.4L1590.1 1061.1L1590.6 1062.6L1591 1064L1591.5 1065.3L1592 1066.6L1592.5 1067.8L1593 1069L1593.5 1070.2L1594.1 1071.3L1594.6 1072.4L1595.2 1073.5L1595.7 1074.4L1596.3 1075.4L1596.9 1076.2L1597.5 1077L1598.1 1077.7L1598.8 1078.4L1599.4 1078.9L1600.1 1079.4L1600.8 1079.9L1601.5 1080.3L1602.2 1080.7L1603 1081L1603.7 1081.3L1604.3 1081.5L1604.9 1081.6L1605.6 1081.8L1606.4 1081.8L1607.3 1081.9L1608.5 1081.9L1610 1082L1611.8 1082L1613.9 1082.1L1616.1 1082.1L1618.6 1082.1L1621.2 1082L1624 1082L1626.9 1082L1630 1082L1633.3 1082L1636.9 1082L1640.7 1082L1644.7 1082L1648.7 1082L1652.6 1082L1656.4 1082L1660 1082L1663.5 1082L1667 1082L1670.4 1082L1673.8 1082L1676.9 1082L1679.9 1082L1682.6 1082L1685 1082L1687 1082L1688.6 1082L1689.9 1081.9L1691.1 1081.9L1692.1 1081.9L1693 1081.9L1693.9 1081.9L1695 1082L1696.1 1082.1L1697.2 1082.2L1698.3 1082.3L1699.3 1082.5L1700.3 1082.7L1701.3 1082.9L1702.2 1083.2L1703 1083.5L1703.7 1083.9L1704.4 1084.3L1705 1084.8L1705.6 1085.3L1706.1 1085.9L1706.6 1086.5L1707 1087.2L1707.5 1088L1707.9 1088.9L1708.4 1089.8L1708.7 1090.9L1709.1 1092L1709.4 1093.1L1709.8 1094.4L1710.1 1095.7L1710.5 1097L1710.9 1098.4L1711.3 1100L1711.6 1101.6L1712 1103.2L1712.4 1104.9L1712.8 1106.7L1713.1 1108.3L1713.5 1110L1713.8 1111.7L1714.2 1113.4L1714.5 1115.1L1714.8 1116.8L1715.2 1118.5L1715.5 1120.1L1715.7 1121.6L1716 1123L1716.2 1124.3L1716.5 1125.5L1716.7 1126.7L1716.9 1127.8L1717.1 1128.8L1717.3 1129.7L1717.4 1130.4L1717.5 1131" stroke="#1a8000" stroke-width="6.2" stroke-dasharray="22 9" stroke-dashoffset="16.55"/>
<path d="M278.5 247L283.6 252L288.6 257L293.7 262L298.7 267L303.7 272L308.7 277L313.6 282L318.6 287L323.5 292L328.3 297L333.2 302L338 307L342.8 312L347.5 317L352.3 322L357 327L361.7 332L366.4 337L371 342L375.6 347L380.2 352L384.8 357L389.3 362L393.9 367L398.4 372L402.8 377L407.3 382L411.7 387L416.1 392L420.5 397L424.9 402L429.2 407L433.5 412L437.8 417L442.1 422L446.3 427L450.6 432L454.8 437L458.9 442L463.1 447L467.2 452L471.4 457L475.5 462L479.6 467L483.6 472L487.6 477L491.7 482L495.7 487L499.6 492L503.6 497L507.5 502L511.5 507L515.4 512L519.2 517L523.1 522L526.9 527L530.8 532L534.6 537L538.4 542L542.1 547L545.9 552L549.6 557L553.3 562L557 567L560.7 572L564.4 577L568 582L571.6 587L575.3 592L578.8 597L582.4 602L586 607L589.5 612L593.1 617L596.6 622L600.1 627L603.6 632L607 637L610.5 642L613.9 647L617.3 652L620.7 657L624.1 662L627.5 667L630.9 672L634.2 677L637.5 682L640.9 687L644.2 692L647.5 697L650.7 702L654 707L657.2 712L660.5 717L663.7 722L666.9 727L670.1 732L673.3 737L676.5 742L679.6 747L682.8 752L685.9 757L689.1 762L692.2 767L695.3 772L698.4 777L701.4 782L704.5 787L707.6 792L710.6 797L713.7 802L716.7 807L719.7 812L722.7 817L725.7 822L728.7 827L731.7 832L734.6 837L737.6 842L740.6 847L743.5 852L746.4 857L749.3 862L752.3 867L755.2 872L758.1 877L761 882L763.8 887L766.7 892L769.6 897L772.4 902L775.3 907L778.1 912L781 917L783.8 922L786.6 927L789.4 932L792.3 937L795.1 942L797.9 947L800.6 952L803.4 957L806.2 962L809 967L811.8 972L814.5 977L817.3 982L820 987L822.8 992L825.5 997L828.3 1002L831 1007L833.7 1012L836.5 1017L839.2 1022L841.9 1027L844.6 1032L847.3 1037L850 1042L852.8 1047L855.5 1052L858.2 1057L860.9 1062L863.5 1067L866.2 1072L868.9 1077L871.6 1082L874.3 1087L877 1092L879.7 1097L882.4 1102L885 1107L887.7 1112L890.4 1117L893.1 1122L895.8 1127" stroke="#808080" stroke-width="6.2" stroke-dasharray="10 9.3" stroke-dashoffset="3.56"/>
<path d="M276.5 328L281.4 333L286.4 338L291.3 343L296.2 348L301.1 353L305.9 358L310.8 363L315.6 368L320.4 373L325.1 378L329.9 383L334.6 388L339.3 393L344 398L348.6 403L353.3 408L357.9 413L362.5 418L367 423L371.6 428L376.1 433L380.6 438L385.1 443L389.6 448L394 453L398.5 458L402.9 463L407.3 468L411.6 473L416 478L420.3 483L424.6 488L428.9 493L433.2 498L437.4 503L441.7 508L445.9 513L450.1 518L454.3 523L458.4 528L462.6 533L466.7 538L470.8 543L474.9 548L479 553L483 558L487.1 563L491.1 568L495.1 573L499.1 578L503 583L507 588L510.9 593L514.9 598L518.8 603L522.6 608L526.5 613L530.4 618L534.2 623L538 628L541.9 633L545.6 638L549.4 643L553.2 648L556.9 653L560.7 658L564.4 663L568.1 668L571.8 673L575.5 678L579.1 683L582.8 688L586.4 693L590 698L593.6 703L597.2 708L600.8 713L604.4 718L607.9 723L611.5 728L615 733L618.5 738L622 743L625.5 748L629 753L632.5 758L635.9 763L639.3 768L642.8 773L646.2 778L649.6 783L653 788L656.4 793L659.8 798L663.1 803L666.5 808L669.8 813L673.2 818L676.5 823L679.8 828L683.1 833L686.4 838L689.7 843L692.9 848L696.2 853L699.4 858L702.7 863L705.9 868L709.1 873L712.3 878L715.6 883L718.8 888L721.9 893L725.1 898L728.3 903L731.5 908L734.6 913L737.8 918L740.9 923L744 928L747.2 933L750.3 938L753.4 943L756.5 948L759.6 953L762.7 958L765.8 963L768.8 968L771.9 973L775 978L778 983L781.1 988L784.1 993L787.2 998L790.2 1003L793.2 1008L796.2 1013L799.3 1018L802.3 1023L805.3 1028L808.3 1033L811.3 1038L814.3 1043L817.3 1048L820.2 1053L823.2 1058L826.2 1063L829.2 1068L832.1 1073L835.1 1078L838.1 1083L841 1088L844 1093L846.9 1098L849.9 1103L852.8 1108L855.8 1113L858.7 1118L861.6 1123L864.6 1128" stroke="#808080" stroke-width="6.2" stroke-dasharray="10 9.3" stroke-dashoffset="6.66"/>
<path d="M787.1 137L790.5 142L793.9 147L797.3 152L800.6 157L803.9 162L807.2 167L810.5 172L813.8 177L817 182L820.3 187L823.5 192L826.6 197L829.8 202L833 207L836.1 212L839.2 217L842.3 222L845.4 227L848.5 232L851.5 237L854.5 242L857.5 247L860.5 252L863.5 257L866.5 262L869.4 267L872.3 272L875.2 277L878.1 282L881 287L883.8 292L886.7 297L889.5 302L892.3 307L895.1 312L897.9 317L900.6 322L903.4 327L906.1 332L908.8 337L911.5 342L914.2 347L916.8 352L919.5 357L922.1 362L924.7 367L927.3 372L929.9 377L932.5 382L935 387L937.6 392L940.1 397L942.6 402L945.1 407L947.6 412L950.1 417L952.5 422L955 427L957.4 432L959.8 437L962.2 442L964.6 447L967 452L969.3 457L971.7 462L974 467L976.3 472L978.7 477L981 482L983.2 487L985.5 492L987.8 497L990 502L992.3 507L994.5 512L996.7 517L998.9 522L1001.1 527L1003.3 532L1005.4 537L1007.6 542L1009.7 547L1011.9 552L1014 557L1016.1 562L1018.2 567L1020.3 572L1022.4 577L1024.4 582L1026.5 587L1028.6 592L1030.6 597L1032.6 602L1034.6 607L1036.6 612L1038.6 617L1040.6 622L1042.6 627L1044.6 632L1046.6 637L1048.5 642L1050.4 647L1052.4 652L1054.3 657L1056.2 662L1058.1 667L1060 672L1061.9 677L1063.8 682L1065.7 687L1067.6 692L1069.4 697L1071.3 702L1073.1 707L1074.9 712L1076.8 717L1078.6 722L1080.4 727L1082.2 732L1084 737L1085.8 742L1087.6 747L1089.4 752L1091.2 757L1092.9 762L1094.7 767L1096.4 772L1098.2 777L1099.9 782L1101.7 787L1103.4 792L1105.1 797L1106.8 802L1108.5 807L1110.3 812L1112 817L1113.7 822L1115.3 827L1117 832L1118.7 837L1120.4 842L1122.1 847L1123.7 852L1125.4 857L1127.1 862L1128.7 867L1130.4 872L1132 877L1133.7 882L1135.3 887L1136.9 892L1138.6 897L1140.2 902L1141.8 907L1143.4 912L1145.1 917L1146.7 922L1148.3 927L1149.9 932L1151.5 937L1153.1 942L1154.7 947L1156.3 952L1157.9 957L1159.5 962L1161.1 967L1162.7 972L1164.3 977L1165.9 982L1167.5 987L1169 992L1170.6 997L1172.2 1002L1173.8 1007L1175.4 1012L1176.9 1017L1178.5 1022L1180.1 1027L1181.7 1032L1183.3 1037L1184.8 1042L1186.4 1047L1188 1052L1189.6 1057L1191.1 1062L1192.7 1067L1194.3 1072L1195.9 1077L1197.4 1082L1199 1087L1200.6 1092L1202.2 1097L1203.8 1102L1205.3 1107L1206.9 1112L1208.5 1117L1210.1 1122L1211.7 1127" stroke="#808080" stroke-width="6.2" stroke-dasharray="10 9.3" stroke-dashoffset="18.94"/>
<path d="M639.5 137L643.6 142L647.7 147L651.7 152L655.7 157L659.7 162L663.7 167L667.6 172L671.5 177L675.4 182L679.3 187L683.1 192L687 197L690.8 202L694.5 207L698.3 212L702 217L705.7 222L709.4 227L713.1 232L716.7 237L720.3 242L723.9 247L727.5 252L731 257L734.5 262L738 267L741.5 272L745 277L748.4 282L751.9 287L755.3 292L758.6 297L762 302L765.3 307L768.6 312L771.9 317L775.2 322L778.5 327L781.7 332L784.9 337L788.1 342L791.3 347L794.5 352L797.6 357L800.7 362L803.8 367L806.9 372L810 377L813 382L816.1 387L819.1 392L822.1 397L825.1 402L828 407L831 412L833.9 417L836.8 422L839.7 427L842.6 432L845.4 437L848.3 442L851.1 447L853.9 452L856.7 457L859.5 462L862.3 467L865 472L867.8 477L870.5 482L873.2 487L875.9 492L878.6 497L881.2 502L883.9 507L886.5 512L889.1 517L891.7 522L894.3 527L896.9 532L899.5 537L902 542L904.6 547L907.1 552L909.6 557L912.1 562L914.6 567L917.1 572L919.5 577L922 582L924.4 587L926.9 592L929.3 597L931.7 602L934.1 607L936.5 612L938.8 617L941.2 622L943.6 627L945.9 632L948.2 637L950.6 642L952.9 647L955.2 652L957.5 657L959.7 662L962 667L964.3 672L966.5 677L968.8 682L971 687L973.2 692L975.5 697L977.7 702L979.9 707L982.1 712L984.3 717L986.4 722L988.6 727L990.8 732L992.9 737L995.1 742L997.2 747L999.3 752L1001.4 757L1003.6 762L1005.7 767L1007.8 772L1009.8 777L1011.9 782L1014 787L1016.1 792L1018.1 797L1020.2 802L1022.2 807L1024.3 812L1026.3 817L1028.3 822L1030.4 827L1032.4 832L1034.4 837L1036.4 842L1038.4 847L1040.4 852L1042.4 857L1044.3 862L1046.3 867L1048.3 872L1050.2 877L1052.2 882L1054.2 887L1056.1 892L1058 897L1060 902L1061.9 907L1063.8 912L1065.8 917L1067.7 922L1069.6 927L1071.5 932L1073.4 937L1075.3 942L1077.2 947L1079.1 952L1081 957L1082.9 962L1084.8 967L1086.6 972L1088.5 977L1090.4 982L1092.2 987L1094.1 992L1096 997L1097.8 1002L1099.7 1007L1101.5 1012L1103.4 1017L1105.2 1022L1107.1 1027L1108.9 1032L1110.7 1037L1112.6 1042L1114.4 1047L1116.2 1052L1118.1 1057L1119.9 1062L1121.7 1067L1123.5 1072L1125.3 1077L1127.2 1082L1129 1087L1130.8 1092L1132.6 1097L1134.4 1102L1136.2 1107L1138.1 1112L1139.9 1117L1141.7 1122L1143.5 1127" stroke="#808080" stroke-width="6.2" stroke-dasharray="10 9.3" stroke-dashoffset="16.59"/>
<path d="M1316.4 137L1320.2 142L1324.1 147L1327.9 152L1331.7 157L1335.5 162L1339.3 167L1343 172L1346.7 177L1350.4 182L1354.1 187L1357.8 192L1361.4 197L1365 202L1368.6 207L1372.2 212L1375.7 217L1379.2 222L1382.7 227L1386.2 232L1389.7 237L1393.1 242L1396.6 247L1400 252L1403.3 257L1406.7 262L1410 267L1413.4 272L1416.7 277L1420 282L1423.2 287L1426.5 292L1429.7 297L1432.9 302L1436.1 307L1439.3 312L1442.4 317L1445.6 322L1448.7 327L1451.8 332L1454.9 337L1457.9 342L1461 347L1464 352L1467 357L1470 362L1473 367L1475.9 372L1478.9 377L1481.8 382L1484.7 387L1487.6 392L1490.5 397L1493.3 402L1496.2 407L1499 412L1501.8 417L1504.6 422L1507.4 427L1510.1 432L1512.9 437L1515.6 442L1518.3 447L1521 452L1523.7 457L1526.4 462L1529.1 467L1531.7 472L1534.3 477L1537 482L1539.6 487L1542.1 492L1544.7 497L1547.3 502L1549.8 507L1552.3 512L1554.9 517L1557.4 522L1559.9 527L1562.3 532L1564.8 537L1567.3 542L1569.7 547L1572.1 552L1574.5 557L1576.9 562L1579.3 567L1581.7 572L1584.1 577L1586.4 582L1588.8 587L1591.1 592L1593.4 597L1595.7 602L1598 607L1600.3 612L1602.6 617L1604.8 622L1607.1 627L1609.3 632L1611.6 637L1613.8 642L1616 647L1618.2 652L1620.4 657L1622.6 662L1624.8 667L1626.9 672L1629.1 677L1631.2 682L1633.4 687L1635.5 692L1637.6 697L1639.7 702L1641.8 707L1643.9 712L1646 717L1648.1 722L1650.1 727L1652.2 732L1654.2 737L1656.3 742L1658.3 747L1660.3 752L1662.3 757L1664.4 762L1666.4 767L1668.4 772L1670.4 777L1672.3 782L1674.3 787L1676.3 792L1678.2 797L1680.2 802L1682.2 807L1684.1 812L1686 817L1688 822L1689.9 827L1691.8 832L1693.7 837L1695.7 842L1697.6 847L1699.5 852L1701.4 857L1703.3 862L1705.1 867L1707 872L1708.9 877L1710.8 882L1712.6 887L1714.5 892L1716.4 897L1718.2 902L1720.1 907L1721.9 912L1723.8 917L1725.6 922L1727.5 927L1729.3 932L1731.1 937L1733 942L1734.8 947L1736.6 952L1738.4 957L1740.3 962L1742.1 967L1743.9 972L1745.7 977L1747.5 982L1749.3 987L1751.2 992L1753 997L1754.8 1002L1756.6 1007L1758.4 1012L1760.2 1017L1762 1022L1763.8 1027L1765.6 1032L1767.4 1037L1769.2 1042L1771 1047L1772.8 1052L1774.6 1057L1776.4 1062L1778.2 1067L1780 1072L1781.8 1077L1783.6 1082L1785.4 1087L1787.2 1092L1789 1097L1790.9 1102L1792.7 1107L1794.5 1112L1796.3 1117L1798.1 1122L1799.9 1127" stroke="#808080" stroke-width="6.2" stroke-dasharray="10 9.3" stroke-dashoffset="14.56"/>
<path d="M1194.7 137L1198.1 142L1201.6 147L1205 152L1208.4 157L1211.8 162L1215.2 167L1218.5 172L1221.9 177L1225.2 182L1228.4 187L1231.7 192L1235 197L1238.2 202L1241.4 207L1244.6 212L1247.8 217L1250.9 222L1254.1 227L1257.2 232L1260.3 237L1263.4 242L1266.4 247L1269.5 252L1272.5 257L1275.5 262L1278.5 267L1281.5 272L1284.4 277L1287.4 282L1290.3 287L1293.2 292L1296.1 297L1298.9 302L1301.8 307L1304.6 312L1307.4 317L1310.2 322L1313 327L1315.8 332L1318.6 337L1321.3 342L1324 347L1326.7 352L1329.4 357L1332.1 362L1334.8 367L1337.4 372L1340 377L1342.6 382L1345.2 387L1347.8 392L1350.4 397L1353 402L1355.5 407L1358 412L1360.5 417L1363 422L1365.5 427L1368 432L1370.5 437L1372.9 442L1375.3 447L1377.7 452L1380.1 457L1382.5 462L1384.9 467L1387.3 472L1389.6 477L1392 482L1394.3 487L1396.6 492L1398.9 497L1401.2 502L1403.5 507L1405.8 512L1408 517L1410.3 522L1412.5 527L1414.7 532L1416.9 537L1419.1 542L1421.3 547L1423.5 552L1425.6 557L1427.8 562L1429.9 567L1432.1 572L1434.2 577L1436.3 582L1438.4 587L1440.5 592L1442.6 597L1444.6 602L1446.7 607L1448.8 612L1450.8 617L1452.8 622L1454.9 627L1456.9 632L1458.9 637L1460.9 642L1462.9 647L1464.8 652L1466.8 657L1468.8 662L1470.7 667L1472.7 672L1474.6 677L1476.6 682L1478.5 687L1480.4 692L1482.3 697L1484.2 702L1486.1 707L1488 712L1489.8 717L1491.7 722L1493.6 727L1495.4 732L1497.3 737L1499.1 742L1501 747L1502.8 752L1504.6 757L1506.4 762L1508.2 767L1510 772L1511.8 777L1513.6 782L1515.4 787L1517.2 792L1519 797L1520.7 802L1522.5 807L1524.3 812L1526 817L1527.8 822L1529.5 827L1531.2 832L1533 837L1534.7 842L1536.4 847L1538.1 852L1539.9 857L1541.6 862L1543.3 867L1545 872L1546.7 877L1548.4 882L1550.1 887L1551.8 892L1553.4 897L1555.1 902L1556.8 907L1558.5 912L1560.1 917L1561.8 922L1563.5 927L1565.1 932L1566.8 937L1568.5 942L1570.1 947L1571.8 952L1573.4 957L1575.1 962L1576.7 967L1578.4 972L1580 977L1581.6 982L1583.3 987L1584.9 992L1586.6 997L1588.2 1002L1589.8 1007L1591.5 1012L1593.1 1017L1594.7 1022L1596.4 1027L1598 1032L1599.6 1037L1601.3 1042L1602.9 1047L1604.5 1052L1606.1 1057L1607.8 1062L1609.4 1067L1611 1072L1612.7 1077L1614.3 1082L1615.9 1087L1617.6 1092L1619.2 1097L1620.8 1102L1622.5 1107L1624.1 1112L1625.7 1117L1627.4 1122L1629 1127" stroke="#808080" stroke-width="6.2" stroke-dasharray="10 9.3" stroke-dashoffset="15.92"/>
</g>
<g font-family="Liberation Serif" fill="#666666">
<text x="108.5" y="165" font-size="70.5" font-weight="bold">0.100</text>
<text x="108.5" y="410" font-size="70.5" font-weight="bold">0.010</text>
<text x="108.5" y="655" font-size="70.5" font-weight="bold">0.001</text>
<text x="139.2" y="899.5" font-size="70.5" font-weight="bold">10</text>
<text x="210.7" y="878.2" font-size="56" font-weight="normal">−</text>
<text x="241.9" y="872.6" font-size="50.5" font-weight="bold">4</text>
<text x="139.2" y="1144.5" font-size="70.5" font-weight="bold">10</text>
<text x="210.7" y="1123.2" font-size="56" font-weight="normal">−</text>
<text x="241.9" y="1118.4" font-size="50.5" font-weight="bold">5</text>
<text x="601" y="1197" font-size="70.5" font-weight="bold">0.5</text>
<text x="1092.6" y="1197" font-size="70.5" font-weight="bold">1</text>
<text x="1558.1" y="1197" font-size="70.5" font-weight="bold">2</text>
<text transform="translate(68,674.9) rotate(-90)" font-size="72" font-weight="bold">SF</text>
<path transform="translate(625,20) scale(0.0742)" d="M230 400L505 400L505 412L255 742C305 765 322 815 337 850C350 878 372 880 384 862C368 835 378 780 418 762C455 750 482 780 478 822C474 870 425 906 360 906C300 906 262 862 212 832L143 824L398 492L262 492C218 496 205 520 198 542L184 542Z"/>
<text x="708" y="82.5" font-size="72" font-weight="bold">100,160</text>
<text x="959.5" y="82.5" font-size="72" font-weight="bold">m;</text>
<path transform="translate(1060,10) scale(0.0742)" d="M760 335C735 318 680 312 630 340C565 375 518 460 490 540L405 540L392 590L475 590C447 720 405 880 365 990C338 1065 303 1118 265 1132C275 1100 262 1060 222 1052C190 1050 170 1075 170 1102C170 1140 205 1162 250 1162C335 1162 418 1100 463 1010C508 900 548 740 583 590L640 590L652 540L596 540C616 470 638 410 667 378C680 362 700 362 712 378C706 400 725 428 758 428C790 428 806 405 806 382C806 355 785 337 760 335Z"/>
<text x="1105" y="96" font-size="50" font-weight="bold" font-style="italic">c</text>
<text x="1122.6" y="58.5" font-size="56" font-weight="normal">−</text>
<text x="1152" y="53" font-size="50" font-weight="bold">1</text>
<text transform="translate(1227.5,82.5) scale(0.72,1)" font-size="72" font-weight="normal">{</text>
<text transform="translate(1249.5,82.5) scale(0.985,1)" font-size="72" font-weight="bold">30,10,3</text>
<text transform="translate(1464,82.5) scale(0.72,1)" font-size="72" font-weight="normal">}</text>
<text x="1489" y="82.5" font-size="72" font-weight="bold">s</text>
<path d="M666.8 54.3h36.4v3.9h-36.4zM666.8 68.6h36.4v3.9h-36.4zM1185.5 54.3h36.8v3.9h-36.8zM1185.5 68.6h36.8v3.9h-36.8z"/>
</g>
<g font-family="Liberation Serif" fill="#000" stroke="#000" stroke-width="0.5">
<text x="893.5" y="1305.4" font-size="72" font-weight="normal" font-style="italic">s</text>
<circle cx="911.5" cy="1262" r="3.6" stroke="none"/>
<text transform="translate(923.6,1317.6) scale(0.94,1)" font-size="52" font-weight="normal">99%</text>
<text x="1057.8" y="1305.4" font-size="72" font-weight="normal">m</text>
<text x="1136" y="1305.4" font-size="72" font-weight="normal">s</text>
<rect x="1169.6" y="1264.1" width="30" height="2.7" stroke="none"/>
<text transform="translate(1202.5,1275.8) scale(1.17,1)" font-size="45" font-weight="normal">2</text>
<path d="M1056.4 1247.5H1044V1327.2H1056.4M1232.5 1247.5H1244.6V1327.2H1232.5" fill="none" stroke="#000" stroke-width="3"/>
</g>
</svg>
</body></html>
